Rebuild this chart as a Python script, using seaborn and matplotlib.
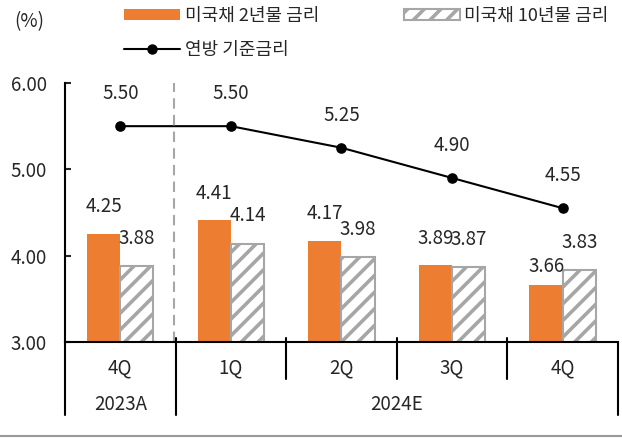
import pandas as pd
import matplotlib.pyplot as plt
import matplotlib.patches as mpatches
import matplotlib.transforms as mtransforms
from matplotlib.lines import Line2D
import seaborn as sns

# chart data
periods = ['2023 4Q', '2024 1Q', '2024 2Q', '2024 3Q', '2024 4Q']
quarter_labels = ['4Q', '1Q', '2Q', '3Q', '4Q']
ust_2y = [4.25, 4.41, 4.17, 3.89, 3.66]
ust_10y = [3.88, 4.14, 3.98, 3.87, 3.83]
fed_rate = [5.50, 5.50, 5.25, 4.90, 4.55]
series_names = ['미국채 2년물 금리', '미국채 10년물 금리', '연방 기준금리']
group_labels = ['2023A', '2024E']

ORANGE = '#ED7D31'
GREY = '#A6A6A6'

sns.set_style('white')
plt.rcParams['font.family'] = ['Noto Sans CJK KR', 'DejaVu Sans']
plt.rcParams['font.size'] = 13.5
plt.rcParams['hatch.linewidth'] = 2.6

# long format for the bars
df = pd.DataFrame({
    'period': periods * 2,
    'rate': ust_2y + ust_10y,
    'series': [series_names[0]] * 5 + [series_names[1]] * 5,
})

fig = plt.figure(figsize=(6.22, 4.46), dpi=100)
ax = fig.add_axes([0.1045, 0.2332, 0.889, 0.5807])

sns.barplot(data=df, x='period', y='rate', hue='series', order=periods,
            hue_order=series_names[:2], palette=[ORANGE, 'white'],
            width=0.6, gap=0, saturation=1, legend=False, ax=ax)

# hatched grey style for the 10y bars
for bar in ax.containers[1]:
    bar.set_edgecolor(GREY)
    bar.set_linewidth(1.5)
    bar.set_hatch('//')
for bar in ax.containers[0]:
    bar.set_edgecolor('none')

# fed funds line
sns.pointplot(x=periods, y=fed_rate, order=periods, color='black',
              markers='o', markersize=6.5, linewidth=1.5, ax=ax)

ax.set_ylim(3, 6)
ax.set_xlim(-0.5, 4.5)
ax.set_yticks([3, 4, 5, 6])
ax.set_yticklabels([f'{v:.2f}' for v in [3, 4, 5, 6]])
ax.set_xticks(range(len(periods)))
ax.set_xticklabels(quarter_labels)
ax.tick_params(axis='x', length=0, pad=11)
ax.tick_params(axis='y', direction='in', length=4, width=1.5, pad=13, left=True)
ax.set_xlabel('')
ax.set_ylabel('')
sns.despine(ax=ax, top=True, right=True)
for side in ['left', 'bottom']:
    ax.spines[side].set_color('black')
    ax.spines[side].set_linewidth(1.5)

# dashed divider between actual and estimate
ax.axvline(0.485, color=GREY, ls=(0, (5, 3)), lw=1.5)

# value labels
for i, v in enumerate(ust_2y):
    off = 13 if i == 4 else 19.5
    ax.annotate(f'{v:.2f}', (i - 0.15, v), xytext=(0, off), textcoords='offset points',
                ha='center', va='center')
for i, v in enumerate(ust_10y):
    ax.annotate(f'{v:.2f}', (i + 0.15, v), xytext=(0, 20), textcoords='offset points',
                ha='center', va='center')
for i, v in enumerate(fed_rate):
    ax.annotate(f'{v:.2f}', (i, v), xytext=(0, 23.5), textcoords='offset points',
                ha='center', va='center')

# category table lines below the axis
trans = mtransforms.blended_transform_factory(ax.transData, ax.transAxes)
for x in [-0.5, 0.5, 4.5]:
    ax.plot([x, x], [0.015 if x == 0.5 else 0, -0.282], color='black', lw=1.5,
            transform=trans, clip_on=False)
for x in [1.5, 2.5, 3.5]:
    ax.plot([x, x], [0.015, -0.143], color='black', lw=1.5,
            transform=trans, clip_on=False)
ax.text(0, -0.243, group_labels[0], transform=trans, ha='center', va='center')
ax.text(2.5, -0.243, group_labels[1], transform=trans, ha='center', va='center')

# legend
handles = [
    mpatches.Patch(facecolor=ORANGE, edgecolor='none', label=series_names[0]),
    Line2D([], [], color='black', lw=1.5, marker='o', markersize=6.5, label=series_names[2]),
    mpatches.Patch(facecolor='white', edgecolor=GREY, hatch='//', lw=1.5, label=series_names[1]),
]
fig.legend(handles=handles, ncol=2, loc='upper left', bbox_to_anchor=(0.188, 1.0),
           frameon=False, fontsize=13, handlelength=3.1, handleheight=0.55,
           handletextpad=0.25, columnspacing=4.7, labelspacing=0.85, borderaxespad=0)

fig.text(29 / 622, 1 - 22 / 446, '(%)', ha='center', va='center')
fig.add_artist(Line2D([0, 1], [0.0224, 0.0224], color='#9a9a9a', lw=1.5))

plt.savefig('out.png', dpi=100)
